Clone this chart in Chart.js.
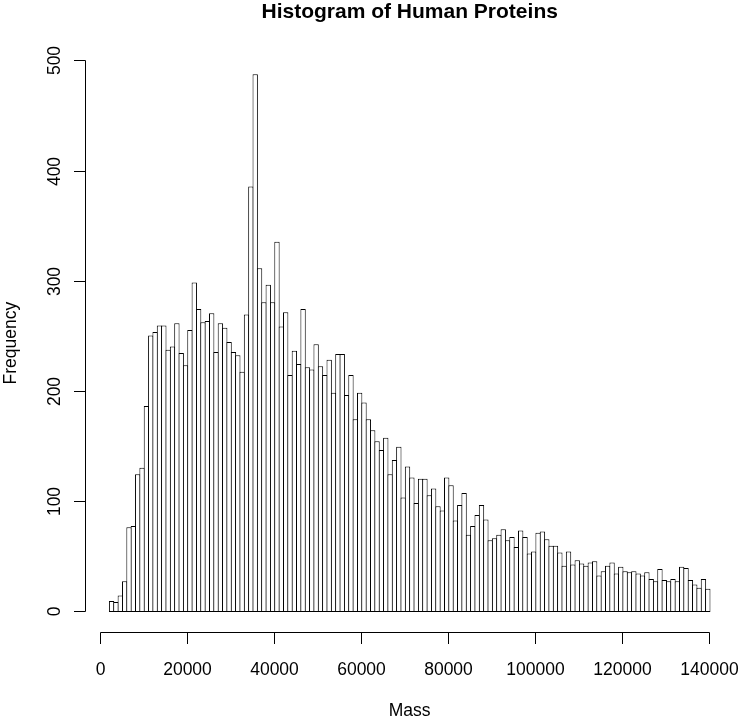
<!DOCTYPE html>
<html>
<head>
<meta charset="utf-8">
<title>Histogram of Human Proteins</title>
<script src="https://cdn.jsdelivr.net/npm/chart.js@4.4.1/dist/chart.umd.min.js"></script>
<style>
  html, body { margin: 0; padding: 0; background: #fff; }
  #wrap { width: 740px; height: 720px; }
</style>
</head>
<body>
<div id="wrap"><canvas id="hist" width="740" height="720"></canvas></div>
<script>
// Histogram eiwitmassa (mens), bins van 1000
const chartTitle = 'Histogram of Human Proteins';
const xTitle = 'Mass';
const yTitle = 'Frequency';

const binStart = 2000;
const binWidth = 1000;
// aantallen per bin, vanaf 2000-3000
const counts = [
  10, 9, 15, 28, 77, 78, 125, 131, 187, 251,
  254, 260, 260, 238, 241, 262, 235, 224, 256, 299,
  275, 263, 264, 271, 236, 262, 258, 245, 236, 233,
  218, 270, 386, 488, 312, 281, 297, 281, 336, 259,
  272, 215, 237, 225, 275, 222, 220, 243, 223, 215,
  229, 199, 234, 234, 197, 215, 175, 199, 190, 175,
  165, 155, 147, 158, 125, 138, 150, 104, 132, 122,
  99, 121, 121, 106, 112, 96, 92, 122, 115, 83,
  97, 108, 70, 78, 88, 97, 84, 65, 67, 70,
  75, 65, 68, 59, 74, 68, 53, 55, 72, 73,
  66, 60, 60, 54, 42, 55, 43, 47, 44, 42,
  45, 46, 33, 37, 42, 45, 35, 41, 37, 36,
  37, 35, 33, 36, 30, 28, 39, 29, 28, 30,
  28, 41, 40, 29, 25, 22, 30, 21
];

const xTicks = [0, 20000, 40000, 60000, 80000, 100000, 120000, 140000];
const yTicks = [0, 100, 200, 300, 400, 500];

// R-achtige 4% marge rond de data
const xLo = binStart, xHi = binStart + counts.length * binWidth;
const xPad = 0.04 * (xHi - xLo);
const yHi = Math.max(...counts);
const yPad = 0.04 * yHi;

const W = 740;
const pad = { left: 85.4, right: 6, top: 52.7, bottom: 86.5 };
// balken 1px breder zodat randen van buren op elkaar vallen
const pxPerBin = (W - pad.left - pad.right) * binWidth / (xHi - xLo + 2 * xPad);
const barPct = (pxPerBin + 1) / pxPerBin;

const FONT = '"Liberation Sans", Arial, Helvetica, sans-serif';

// assen in R-stijl: lijn alleen van eerste tot laatste tick
const rAxes = {
  id: 'rAxes',
  afterDraw(chart) {
    const { ctx, chartArea: area, scales } = chart;
    const sx = scales.x, sy = scales.y;
    const tickLen = 11.5;
    ctx.save();
    ctx.strokeStyle = '#000';
    ctx.fillStyle = '#000';
    ctx.lineWidth = 1;

    // x-as
    const axY = Math.floor(area.bottom) - 0.5;
    const xp = v => Math.floor(sx.getPixelForValue(v)) + 0.5;
    ctx.beginPath();
    ctx.moveTo(xp(xTicks[0]), axY);
    ctx.lineTo(xp(xTicks[xTicks.length - 1]), axY);
    xTicks.forEach(v => { ctx.moveTo(xp(v), axY); ctx.lineTo(xp(v), axY + tickLen); });
    ctx.stroke();

    // y-as
    const axX = Math.floor(area.left) + 0.5;
    const yp = v => Math.floor(sy.getPixelForValue(v)) + 0.5;
    ctx.beginPath();
    ctx.moveTo(axX, yp(yTicks[0]));
    ctx.lineTo(axX, yp(yTicks[yTicks.length - 1]));
    yTicks.forEach(v => { ctx.moveTo(axX, yp(v)); ctx.lineTo(axX - tickLen, yp(v)); });
    ctx.stroke();

    // labels
    ctx.font = '17.5px ' + FONT;
    ctx.textAlign = 'center';
    ctx.textBaseline = 'alphabetic';
    xTicks.forEach(v => ctx.fillText(String(v), xp(v), axY + 42));
    yTicks.forEach(v => {
      ctx.save();
      ctx.translate(axX - 25.5, yp(v));
      ctx.rotate(-Math.PI / 2);
      ctx.fillText(String(v), 0, 0);
      ctx.restore();
    });

    // titels
    const cx = (area.left + area.right) / 2;
    const cy = (area.top + area.bottom) / 2;
    ctx.fillText(xTitle, cx, 716);
    ctx.save();
    ctx.translate(16, cy);
    ctx.rotate(-Math.PI / 2);
    ctx.fillText(yTitle, 0, 0);
    ctx.restore();

    ctx.font = 'bold 21px ' + FONT;
    ctx.fillText(chartTitle, cx, 18);
    ctx.restore();
  }
};

new Chart(document.getElementById('hist'), {
  type: 'bar',
  data: {
    datasets: [{
      data: counts.map((c, i) => ({ x: binStart + i * binWidth + binWidth / 2, y: c })),
      backgroundColor: '#ffffff',
      borderColor: '#000000',
      borderWidth: 1,
      borderSkipped: false,
      inflateAmount: 0,
      barPercentage: barPct,
      categoryPercentage: 1
    }]
  },
  options: {
    responsive: false,
    animation: false,
    events: [],
    devicePixelRatio: 1,
    layout: { padding: pad },
    plugins: {
      legend: { display: false },
      tooltip: { enabled: false },
      title: { display: false }
    },
    scales: {
      x: { type: 'linear', display: false, offset: false, grid: { offset: false },
           min: xLo - xPad, max: xHi + xPad },
      y: { type: 'linear', display: false, min: -yPad, max: yHi + yPad }
    }
  },
  plugins: [rAxes]
});
</script>
</body>
</html>
